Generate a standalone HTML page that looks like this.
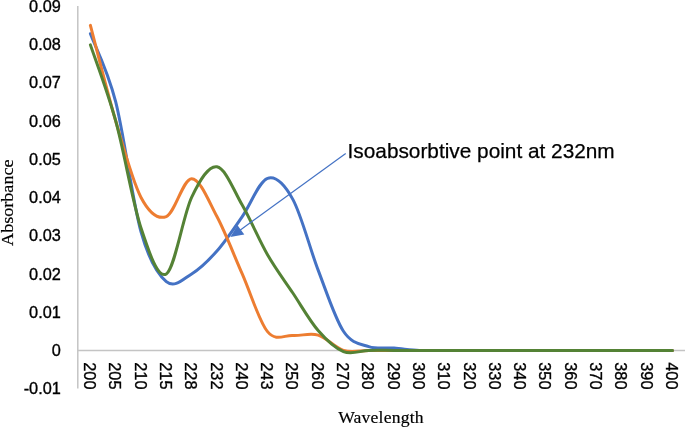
<!DOCTYPE html>
<html><head><meta charset="utf-8"><style>
html,body{margin:0;padding:0;background:#fff;width:685px;height:427px;overflow:hidden}
svg{display:block;will-change:transform}
.t{font-family:"Liberation Sans",sans-serif;font-size:16.3px;fill:#000;stroke:#000;stroke-width:0.35px}
.ann{font-family:"Liberation Sans",sans-serif;font-size:20.8px;fill:#000;stroke:#000;stroke-width:0.25px}
.ttl{font-family:"Liberation Serif",serif;font-size:18.1px;fill:#000;stroke:#000;stroke-width:0.2px}
</style></head><body>
<svg width="685" height="427" viewBox="0 0 685 427">
<line x1="77.8" y1="6" x2="77.8" y2="388.6" stroke="#c4c4c4" stroke-width="1.5"/>
<line x1="77.8" y1="350.4" x2="685" y2="350.4" stroke="#c4c4c4" stroke-width="1.5"/>
<text x="60.8" y="5.80" text-anchor="end" dominant-baseline="central" class="t">0.09</text>
<text x="60.8" y="44.06" text-anchor="end" dominant-baseline="central" class="t">0.08</text>
<text x="60.8" y="82.32" text-anchor="end" dominant-baseline="central" class="t">0.07</text>
<text x="60.8" y="120.58" text-anchor="end" dominant-baseline="central" class="t">0.06</text>
<text x="60.8" y="158.84" text-anchor="end" dominant-baseline="central" class="t">0.05</text>
<text x="60.8" y="197.10" text-anchor="end" dominant-baseline="central" class="t">0.04</text>
<text x="60.8" y="235.36" text-anchor="end" dominant-baseline="central" class="t">0.03</text>
<text x="60.8" y="273.62" text-anchor="end" dominant-baseline="central" class="t">0.02</text>
<text x="60.8" y="311.88" text-anchor="end" dominant-baseline="central" class="t">0.01</text>
<text x="60.8" y="350.14" text-anchor="end" dominant-baseline="central" class="t">0</text>
<text x="60.8" y="388.40" text-anchor="end" dominant-baseline="central" class="t">-0.01</text>
<text transform="translate(90.00,362.3) rotate(90)" x="0" y="0" dominant-baseline="central" class="t">200</text>
<text transform="translate(115.31,362.3) rotate(90)" x="0" y="0" dominant-baseline="central" class="t">205</text>
<text transform="translate(140.61,362.3) rotate(90)" x="0" y="0" dominant-baseline="central" class="t">210</text>
<text transform="translate(165.91,362.3) rotate(90)" x="0" y="0" dominant-baseline="central" class="t">215</text>
<text transform="translate(191.22,362.3) rotate(90)" x="0" y="0" dominant-baseline="central" class="t">228</text>
<text transform="translate(216.53,362.3) rotate(90)" x="0" y="0" dominant-baseline="central" class="t">232</text>
<text transform="translate(241.83,362.3) rotate(90)" x="0" y="0" dominant-baseline="central" class="t">240</text>
<text transform="translate(267.13,362.3) rotate(90)" x="0" y="0" dominant-baseline="central" class="t">243</text>
<text transform="translate(292.44,362.3) rotate(90)" x="0" y="0" dominant-baseline="central" class="t">250</text>
<text transform="translate(317.75,362.3) rotate(90)" x="0" y="0" dominant-baseline="central" class="t">260</text>
<text transform="translate(343.05,362.3) rotate(90)" x="0" y="0" dominant-baseline="central" class="t">270</text>
<text transform="translate(368.36,362.3) rotate(90)" x="0" y="0" dominant-baseline="central" class="t">280</text>
<text transform="translate(393.66,362.3) rotate(90)" x="0" y="0" dominant-baseline="central" class="t">290</text>
<text transform="translate(418.96,362.3) rotate(90)" x="0" y="0" dominant-baseline="central" class="t">300</text>
<text transform="translate(444.27,362.3) rotate(90)" x="0" y="0" dominant-baseline="central" class="t">310</text>
<text transform="translate(469.57,362.3) rotate(90)" x="0" y="0" dominant-baseline="central" class="t">320</text>
<text transform="translate(494.88,362.3) rotate(90)" x="0" y="0" dominant-baseline="central" class="t">330</text>
<text transform="translate(520.18,362.3) rotate(90)" x="0" y="0" dominant-baseline="central" class="t">340</text>
<text transform="translate(545.49,362.3) rotate(90)" x="0" y="0" dominant-baseline="central" class="t">350</text>
<text transform="translate(570.80,362.3) rotate(90)" x="0" y="0" dominant-baseline="central" class="t">360</text>
<text transform="translate(596.10,362.3) rotate(90)" x="0" y="0" dominant-baseline="central" class="t">370</text>
<text transform="translate(621.40,362.3) rotate(90)" x="0" y="0" dominant-baseline="central" class="t">380</text>
<text transform="translate(646.71,362.3) rotate(90)" x="0" y="0" dominant-baseline="central" class="t">390</text>
<text transform="translate(672.01,362.3) rotate(90)" x="0" y="0" dominant-baseline="central" class="t">400</text>
<path d="M90.40,33.77 C94.62,45.12 107.27,68.83 115.71,101.84 C124.14,134.85 132.57,201.90 141.01,231.86 C149.44,261.81 157.88,274.56 166.31,281.57 C174.75,288.58 183.19,279.02 191.62,273.92 C200.06,268.82 208.49,260.54 216.93,250.98 C225.36,241.42 233.79,228.67 242.23,216.56 C250.66,204.45 259.10,181.19 267.53,178.32 C275.97,175.45 284.41,184.06 292.84,199.35 C301.28,214.65 309.71,248.11 318.14,270.10 C326.58,292.08 335.02,318.53 343.45,331.28 C351.89,344.03 360.32,343.77 368.75,346.58 C377.19,349.38 385.62,347.47 394.06,348.11 C402.49,348.74 410.93,350.02 419.37,350.40 C427.80,350.78 436.23,350.40 444.67,350.40 C453.10,350.40 461.54,350.40 469.98,350.40 C478.41,350.40 486.84,350.40 495.28,350.40 C503.71,350.40 512.15,350.40 520.59,350.40 C529.02,350.40 537.45,350.40 545.89,350.40 C554.33,350.40 562.76,350.40 571.20,350.40 C579.63,350.40 588.07,350.40 596.50,350.40 C604.93,350.40 613.37,350.40 621.80,350.40 C630.24,350.40 638.67,350.40 647.11,350.40 C655.55,350.40 668.20,350.40 672.41,350.40" fill="none" stroke="#4472c4" stroke-width="3" stroke-linecap="round" stroke-linejoin="round"/>
<path d="M90.40,25.36 C94.62,41.29 107.27,92.28 115.71,120.96 C124.14,149.64 132.57,181.51 141.01,197.44 C149.44,213.37 157.88,219.68 166.31,216.56 C174.75,213.44 183.19,178.70 191.62,178.70 C200.06,178.70 208.49,200.69 216.93,216.56 C225.36,232.43 233.79,254.74 242.23,273.92 C250.66,293.10 259.10,321.40 267.53,331.66 C275.97,341.92 284.41,334.91 292.84,335.49 C301.28,336.06 309.71,332.62 318.14,335.10 C326.58,337.59 335.02,347.85 343.45,350.40 C351.89,352.95 360.32,350.40 368.75,350.40 C377.19,350.40 385.62,350.40 394.06,350.40 C402.49,350.40 410.93,350.40 419.37,350.40 C427.80,350.40 436.23,350.40 444.67,350.40 C453.10,350.40 461.54,350.40 469.98,350.40 C478.41,350.40 486.84,350.40 495.28,350.40 C503.71,350.40 512.15,350.40 520.59,350.40 C529.02,350.40 537.45,350.40 545.89,350.40 C554.33,350.40 562.76,350.40 571.20,350.40 C579.63,350.40 588.07,350.40 596.50,350.40 C604.93,350.40 613.37,350.40 621.80,350.40 C630.24,350.40 638.67,350.40 647.11,350.40 C655.55,350.40 668.20,350.40 672.41,350.40" fill="none" stroke="#ed7d31" stroke-width="3" stroke-linecap="round" stroke-linejoin="round"/>
<path d="M90.40,44.86 C94.62,57.55 107.27,90.43 115.71,120.96 C124.14,151.49 132.57,202.54 141.01,228.03 C149.44,253.53 157.88,279.02 166.31,273.92 C174.75,268.82 183.19,215.29 191.62,197.44 C200.06,179.59 208.49,165.57 216.93,166.85 C225.36,168.12 233.79,190.43 242.23,205.09 C250.66,219.75 259.10,240.14 267.53,254.80 C275.97,269.46 284.41,280.42 292.84,293.04 C301.28,305.66 309.71,320.76 318.14,330.52 C326.58,340.27 335.02,348.23 343.45,351.55 C351.89,354.86 360.32,350.59 368.75,350.40 C377.19,350.21 385.62,350.40 394.06,350.40 C402.49,350.40 410.93,350.40 419.37,350.40 C427.80,350.40 436.23,350.40 444.67,350.40 C453.10,350.40 461.54,350.40 469.98,350.40 C478.41,350.40 486.84,350.40 495.28,350.40 C503.71,350.40 512.15,350.40 520.59,350.40 C529.02,350.40 537.45,350.40 545.89,350.40 C554.33,350.40 562.76,350.40 571.20,350.40 C579.63,350.40 588.07,350.40 596.50,350.40 C604.93,350.40 613.37,350.40 621.80,350.40 C630.24,350.40 638.67,350.40 647.11,350.40 C655.55,350.40 668.20,350.40 672.41,350.40" fill="none" stroke="#548235" stroke-width="3" stroke-linecap="round" stroke-linejoin="round"/>
<line x1="345.7" y1="153.6" x2="239" y2="230.9" stroke="#4472c4" stroke-width="1.2"/>
<path d="M230.3,236.9 L237.5,225.2 L244.3,234.6 Z" fill="#4472c4"/>
<text x="347.6" y="157.6" class="ann">Isoabsorbtive point at 232nm</text>
<text transform="translate(13,202.7) rotate(-90) scale(1,0.96)" text-anchor="middle" class="ttl">Absorbance</text>
<text transform="translate(380.95,422.7)" text-anchor="middle" class="ttl" style="font-size:17.6px;letter-spacing:0.2px">Wavelength</text>
</svg>
</body></html>
